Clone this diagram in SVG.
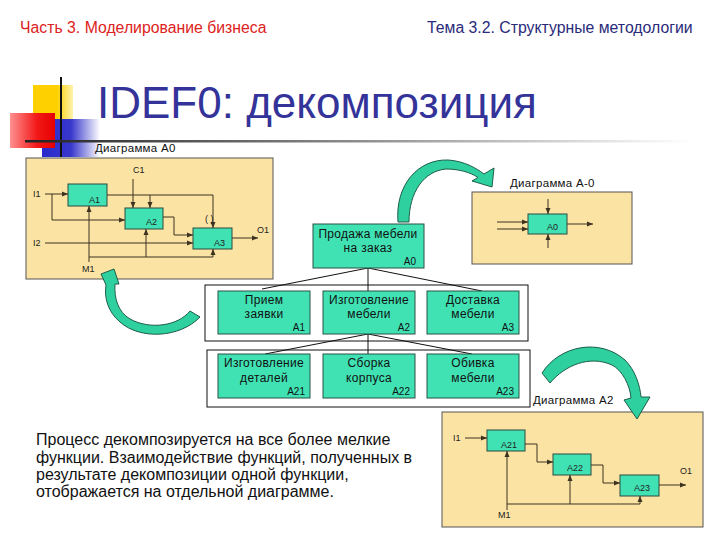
<svg xmlns="http://www.w3.org/2000/svg" width="720" height="540" viewBox="0 0 720 540">
<defs>
<style>
.t{font-family:"Liberation Sans",Arial,sans-serif}
.frame{fill:#FBE3A4;stroke:#555;stroke-width:1}
.fb{fill:#40E2B4;stroke:#2a4a40;stroke-width:1}
.box{fill:#40E2B4;stroke:#2a5045;stroke-width:1}
.dl{fill:none;stroke:#3d3320;stroke-width:1}
.sm{font-size:9px;fill:#222}
.lab{font-size:11.5px;fill:#111;letter-spacing:0.3px}
.bt{font-size:12px;fill:#111;text-anchor:middle;letter-spacing:0.3px}
.bl{font-size:10px;fill:#111;text-anchor:end}
.hl{fill:none;stroke:#111;stroke-width:1}
.ga{fill:#2fd0a0;stroke:#1d5e48;stroke-width:1}
</style>
<marker id="ah" viewBox="0 0 6 6" refX="6" refY="3" markerWidth="6" markerHeight="6" markerUnits="userSpaceOnUse" orient="auto">
<path d="M0,0.5 L6,3 L0,5.5 Z" fill="#3d3320"/>
</marker>
<linearGradient id="gY" x1="0" y1="0" x2="1" y2="0"><stop offset="0" stop-color="#FFD000"/><stop offset="0.6" stop-color="#FFD000"/><stop offset="1" stop-color="#FFF3B0"/></linearGradient>
<linearGradient id="gR" x1="0" y1="0" x2="1" y2="0"><stop offset="0" stop-color="#FF9090"/><stop offset="0.6" stop-color="#F21818"/><stop offset="1" stop-color="#E60000"/></linearGradient>
<linearGradient id="gB" x1="0" y1="0" x2="1" y2="0"><stop offset="0" stop-color="#2A2ACC"/><stop offset="0.5" stop-color="#3838CC"/><stop offset="1" stop-color="#FFFFFF"/></linearGradient>
<linearGradient id="gL" x1="0" y1="0" x2="1" y2="0"><stop offset="0" stop-color="#222"/><stop offset="0.4" stop-color="#777"/><stop offset="1" stop-color="#FFF"/></linearGradient>
</defs>
<rect width="720" height="540" fill="#FFFFFF"/>

<g id="header">
<text class="t" x="20" y="33" font-size="15.8" fill="#DD2222">Часть 3. Моделирование бизнеса</text>
<text class="t" x="427" y="33" font-size="15.8" fill="#2A2A7A">Тема 3.2. Структурные методологии</text>
</g>

<g id="decoration">
<rect x="33" y="85" width="40" height="35" fill="url(#gY)"/>
<rect x="42" y="119" width="58" height="38" fill="url(#gB)"/>
<rect x="10" y="113" width="45" height="35" fill="url(#gR)"/>
<line x1="61" y1="77" x2="61" y2="157" stroke="#111" stroke-width="2"/>
<rect x="25" y="140" width="665" height="2.5" fill="url(#gL)"/>
</g>

<text id="title" class="t" x="97" y="118" font-size="44" fill="#333399">IDEF0: декомпозиция</text>

<g id="diagramA0">
<rect class="frame" x="26" y="158" width="247" height="121"/>
<text class="t lab" x="95" y="152">Диаграмма A0</text>
<g id="a0-A1"><rect class="fb" x="68" y="184" width="39" height="22"/><text class="t sm" x="89" y="203">A1</text></g>
<g id="a0-A2"><rect class="fb" x="125" y="208" width="38" height="21"/><text class="t sm" x="146" y="225">A2</text></g>
<g id="a0-A3"><rect class="fb" x="193" y="228" width="39" height="21"/><text class="t sm" x="214" y="246">A3</text></g>
<g id="a0-connectors">
<path class="dl" d="M133,179 V208" marker-end="url(#ah)"/>
<path class="dl" d="M45,194 H68" marker-end="url(#ah)"/>
<path class="dl" d="M52,194 V220 H125" marker-end="url(#ah)"/>
<path class="dl" d="M107,195 H213 V228" marker-end="url(#ah)"/>
<path class="dl" d="M150,195 V208" marker-end="url(#ah)"/>
<path class="dl" d="M163,217 H174 V235 H193" marker-end="url(#ah)"/>
<path class="dl" d="M45,243 H193" marker-end="url(#ah)"/>
<path class="dl" d="M232,238 H258" marker-end="url(#ah)"/>
<path class="dl" d="M89,262 V206" marker-end="url(#ah)"/>
<path class="dl" d="M89,257 H213 V249" marker-end="url(#ah)"/>
<path class="dl" d="M146,257 V229" marker-end="url(#ah)"/>
</g>
<text class="t sm" x="133" y="173">C1</text>
<text class="t sm" x="33" y="197">I1</text>
<text class="t sm" x="33" y="246">I2</text>
<text class="t sm" x="257" y="233">O1</text>
<text class="t sm" x="82" y="272">M1</text>
<text class="t sm" x="205" y="222">( )</text>
</g>

<g id="diagramA-0">
<rect class="frame" x="472" y="192" width="160" height="72"/>
<text class="t lab" x="510" y="187">Диаграмма A-0</text>
<g id="a-0-A0"><rect class="fb" x="528" y="214" width="39" height="20"/><text class="t sm" x="547" y="230">A0</text></g>
<g id="a-0-connectors">
<path class="dl" d="M548,199 V214" marker-end="url(#ah)"/>
<path class="dl" d="M548,248 V234" marker-end="url(#ah)"/>
<path class="dl" d="M497,222 H528" marker-end="url(#ah)"/>
<path class="dl" d="M497,229 H528" marker-end="url(#ah)"/>
<path class="dl" d="M567,224 H593" marker-end="url(#ah)"/>
</g>
</g>

<g id="diagramA2">
<rect class="frame" x="442" y="412" width="261" height="115"/>
<text class="t lab" x="533" y="404">Диаграмма A2</text>
<g id="a2-A21"><rect class="fb" x="487" y="430" width="38" height="21"/><text class="t sm" x="501" y="448">A21</text></g>
<g id="a2-A22"><rect class="fb" x="553" y="454" width="38" height="21"/><text class="t sm" x="567" y="471">A22</text></g>
<g id="a2-A23"><rect class="fb" x="620" y="475" width="39" height="21"/><text class="t sm" x="634" y="491">A23</text></g>
<g id="a2-connectors">
<path class="dl" d="M465,438 H487" marker-end="url(#ah)"/>
<path class="dl" d="M525,444 H537 V462 H553" marker-end="url(#ah)"/>
<path class="dl" d="M591,465 H603 V483 H620" marker-end="url(#ah)"/>
<path class="dl" d="M659,485 H686" marker-end="url(#ah)"/>
<path class="dl" d="M507,510 V451" marker-end="url(#ah)"/>
<path class="dl" d="M507,504 H640 V496" marker-end="url(#ah)"/>
<path class="dl" d="M570,504 V475" marker-end="url(#ah)"/>
</g>
<text class="t sm" x="453" y="441">I1</text>
<text class="t sm" x="680" y="474">O1</text>
<text class="t sm" x="498" y="518">M1</text>
</g>

<g id="hierarchy-connectors">
<rect class="hl" x="205" y="285" width="323" height="56"/>
<rect class="hl" x="207" y="350" width="323" height="57"/>
<path class="hl" d="M368,268 L262,289 M368,268 V291 M368,268 L482,291"/>
<path class="hl" d="M368,334 L265,354 M368,334 V354 M368,334 L472,354"/>
</g>

<g id="node-A0">
<rect class="box" x="313" y="224" width="111" height="44"/>
<text class="t bt" x="368" y="238">Продажа мебели</text>
<text class="t bt" x="368" y="252">на заказ</text>
<text class="t bl" x="416" y="265">A0</text>
</g>
<g id="node-A1">
<rect class="box" x="218" y="291" width="92" height="43"/>
<text class="t bt" x="264" y="304">Прием</text>
<text class="t bt" x="264" y="318">заявки</text>
<text class="t bl" x="305" y="331">A1</text>
</g>
<g id="node-A2">
<rect class="box" x="323" y="291" width="92" height="43"/>
<text class="t bt" x="369" y="304">Изготовление</text>
<text class="t bt" x="369" y="318">мебели</text>
<text class="t bl" x="410" y="331">A2</text>
</g>
<g id="node-A3">
<rect class="box" x="427" y="291" width="92" height="43"/>
<text class="t bt" x="473" y="304">Доставка</text>
<text class="t bt" x="473" y="318">мебели</text>
<text class="t bl" x="514" y="331">A3</text>
</g>
<g id="node-A21">
<rect class="box" x="218" y="354" width="92" height="44"/>
<text class="t bt" x="264" y="367">Изготовление</text>
<text class="t bt" x="264" y="382">деталей</text>
<text class="t bl" x="305" y="395">A21</text>
</g>
<g id="node-A22">
<rect class="box" x="323" y="354" width="92" height="44"/>
<text class="t bt" x="369" y="367">Сборка</text>
<text class="t bt" x="369" y="382">корпуса</text>
<text class="t bl" x="410" y="395">A22</text>
</g>
<g id="node-A23">
<rect class="box" x="427" y="354" width="92" height="44"/>
<text class="t bt" x="473" y="367">Обивка</text>
<text class="t bt" x="473" y="382">мебели</text>
<text class="t bl" x="514" y="395">A23</text>
</g>

<g id="green-arrows">
<path class="ga" d="M398,222 C395,185 418,159 448,160 C464,161 476,168 484,174 L494,168 L492,187 L472,181 L478,177.5 C470,172 458,169 446,169 C424,171 409,192 409,222 Z"/>
<path class="ga" d="M200,317 C180,338 140,340 120,322 C108,312 104,298 106,285 L101,274 L114,269 L119,284 L115,284 C114,298 118,312 130,319 C150,330 178,326 190,311 Z"/>
<path class="ga" d="M542,373 C560,345 600,338 625,360 C635,370 640,385 641,397 L650,397 L637,419 L624,400 L631,398 C630,385 622,370 612,365 C590,355 565,365 550,383 Z"/>
</g>

<g id="caption" class="t" font-size="16" fill="#111">
<text x="36" y="445">Процесс декомпозируется на все более мелкие</text>
<text x="36" y="463">функции. Взаимодействие функций, полученных в</text>
<text x="36" y="480">результате декомпозиции одной функции,</text>
<text x="36" y="497">отображается на отдельной диаграмме.</text>
</g>
</svg>
